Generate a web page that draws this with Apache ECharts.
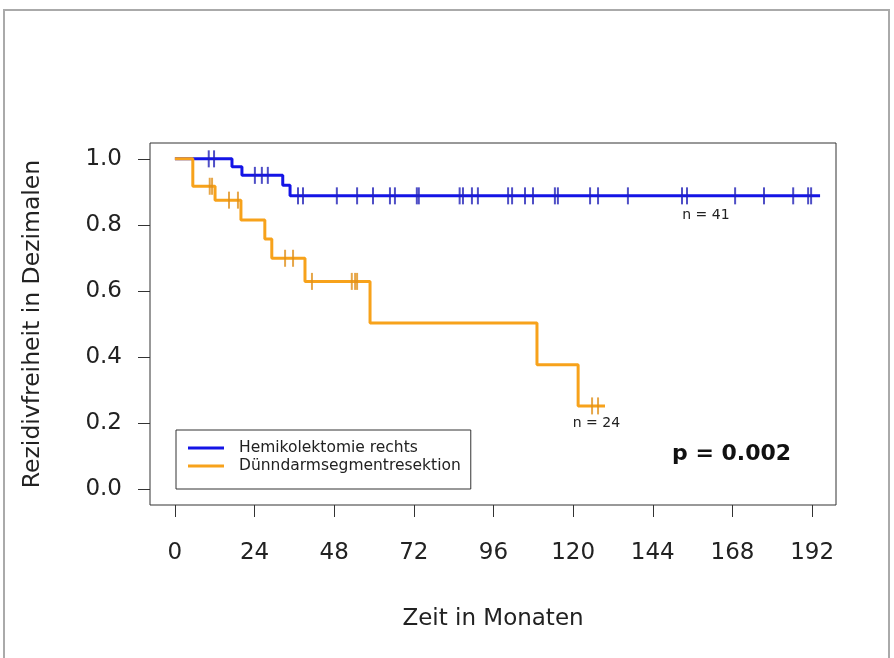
<!DOCTYPE html>
<html>
<head>
<meta charset="utf-8">
<script src="https://cdn.jsdelivr.net/npm/echarts@6/dist/echarts.min.js"></script>
<style>
  html, body { margin: 0; padding: 0; background: #fff; }
  #main { width: 894px; height: 658px; }
</style>
</head>
<body>
<div id="main"></div>
<script>
// Kaplan-Meier Stufen: [Monat, Rezidivfreiheit]
var blueName = 'Hemikolektomie rechts';
var orangeName = 'Dünndarmsegmentresektion';

var blueSteps = [[0, 1], [17.2, 0.976], [20.2, 0.95], [32.5, 0.92], [34.7, 0.888], [194.4, 0.888]];
var blueCensor = [10.2, 11.8, 24.1, 26.2, 28.0, 37.1, 38.6, 48.8, 54.9, 59.7, 64.8, 66.3, 72.9, 73.5,
    85.8, 86.8, 89.5, 91.3, 100.4, 101.6, 105.5, 107.9, 114.5, 115.4, 125.1, 127.5, 136.5,
    152.8, 154.3, 168.8, 177.5, 186.3, 190.8, 191.7];

var orangeSteps = [[0, 1], [5.4, 0.917], [12.1, 0.875], [19.9, 0.815], [27.1, 0.757], [29.2, 0.699],
    [39.2, 0.629], [58.8, 0.503], [109.1, 0.377], [121.5, 0.252], [129.6, 0.252]];
var orangeCensor = [10.5, 11.2, 16.3, 19.0, 33.2, 35.6, 41.3, 53.3, 54.3, 54.9, 125.7, 127.5];

var xTicks = [0, 24, 48, 72, 96, 120, 144, 168, 192];
var yTicks = [0, 0.2, 0.4, 0.6, 0.8, 1.0];

var nLabels = [['n = 41', 160, 0.83], ['n = 24', 127, 0.2]];
var pText = 'p = 0.002';

var BLUE = '#1414e6';
var ORANGE = '#f7a21b';
var FONT = 'DejaVu Sans, Liberation Sans, sans-serif';

// Wert der Stufenfunktion zum Zeitpunkt t (Zensur-Striche sitzen auf der Kurve)
function levelAt(steps, t){
    var v = steps[0][1];
    for (var i = 0; i < steps.length; i++){
        if (steps[i][0] <= t) v = steps[i][1];
    }
    return v;
}
function censorPoints(steps, times){
    return times.map(function(t){ return [t, levelAt(steps, t)]; });
}

var myChart = echarts.init(document.getElementById('main'));

var option = {
    animation: false,
    backgroundColor: '#fff',
    textStyle: { fontFamily: FONT },
    grid: {
        left: 150, top: 143, right: 58, bottom: 153,
        show: true, borderColor: '#333', borderWidth: 1
    },
    legend: {
        orient: 'vertical',
        left: 176, top: 430,
        data: [blueName, orangeName],
        icon: 'rect',
        itemWidth: 36, itemHeight: 3, itemGap: 0,
        padding: [9, 10, 14, 12],
        borderColor: '#333', borderWidth: 1,
        textStyle: { fontFamily: FONT, fontSize: 15.5, color: '#222', lineHeight: 18, padding: [0, 0, 0, 10] }
    },
    xAxis: {
        type: 'value',
        min: -7.5, max: 199.2,
        name: 'Zeit in Monaten',
        nameLocation: 'middle', nameGap: 103,
        nameTextStyle: { fontFamily: FONT, fontSize: 23, color: '#222' },
        splitLine: { show: false },
        axisLine: { show: false, onZero: false },
        axisTick: { show: true, length: 12, customValues: xTicks, lineStyle: { color: '#333' } },
        axisLabel: { customValues: xTicks, fontFamily: FONT, fontSize: 23, color: '#222', margin: 37 }
    },
    yAxis: {
        type: 'value',
        min: -0.048, max: 1.048,
        name: 'Rezidivfreiheit in Dezimalen',
        nameLocation: 'middle', nameGap: 105,
        nameTextStyle: { fontFamily: FONT, fontSize: 23.5, color: '#222' },
        splitLine: { show: false },
        axisLine: { show: false, onZero: false },
        axisTick: { show: true, length: 12, customValues: yTicks, lineStyle: { color: '#333' } },
        axisLabel: {
            customValues: yTicks, fontFamily: FONT, fontSize: 23, color: '#222', margin: 28,
            formatter: function(v){ return v.toFixed(1); }
        }
    },
    series: [
        {
            name: blueName, type: 'line', step: 'end', symbol: 'none',
            data: blueSteps,
            lineStyle: { color: BLUE, width: 3 },
            itemStyle: { color: BLUE },
            markPoint: {
                symbolSize: 0,
                label: { show: true, formatter: '{b}', fontFamily: FONT, fontSize: 14, color: '#222' },
                data: [{ name: nLabels[0][0], coord: [nLabels[0][1], nLabels[0][2]] }]
            }
        },
        {
            name: orangeName, type: 'line', step: 'end', symbol: 'none',
            data: orangeSteps,
            lineStyle: { color: ORANGE, width: 3 },
            itemStyle: { color: ORANGE },
            markPoint: {
                symbolSize: 0,
                label: { show: true, formatter: '{b}', fontFamily: FONT, fontSize: 14, color: '#222' },
                data: [{ name: nLabels[1][0], coord: [nLabels[1][1], nLabels[1][2]] }]
            }
        },
        {
            name: 'blue censor', type: 'scatter', symbol: 'rect', symbolSize: [2, 17],
            data: censorPoints(blueSteps, blueCensor),
            itemStyle: { color: '#2222b8' }, z: 3
        },
        {
            name: 'orange censor', type: 'scatter', symbol: 'rect', symbolSize: [2, 17],
            data: censorPoints(orangeSteps, orangeCensor),
            itemStyle: { color: '#e0901a' }, z: 3
        }
    ],
    graphic: [
        {
            type: 'rect', silent: true, z: -10,
            shape: { x: 4, y: 10, width: 885, height: 700 },
            style: { fill: 'none', stroke: '#aaa', lineWidth: 2 }
        },
        {
            type: 'text', left: 672, top: 443,
            style: { text: pText, font: 'bold 22px ' + FONT, fill: '#111' }
        }
    ]
};

myChart.setOption(option);
</script>
</body>
</html>
